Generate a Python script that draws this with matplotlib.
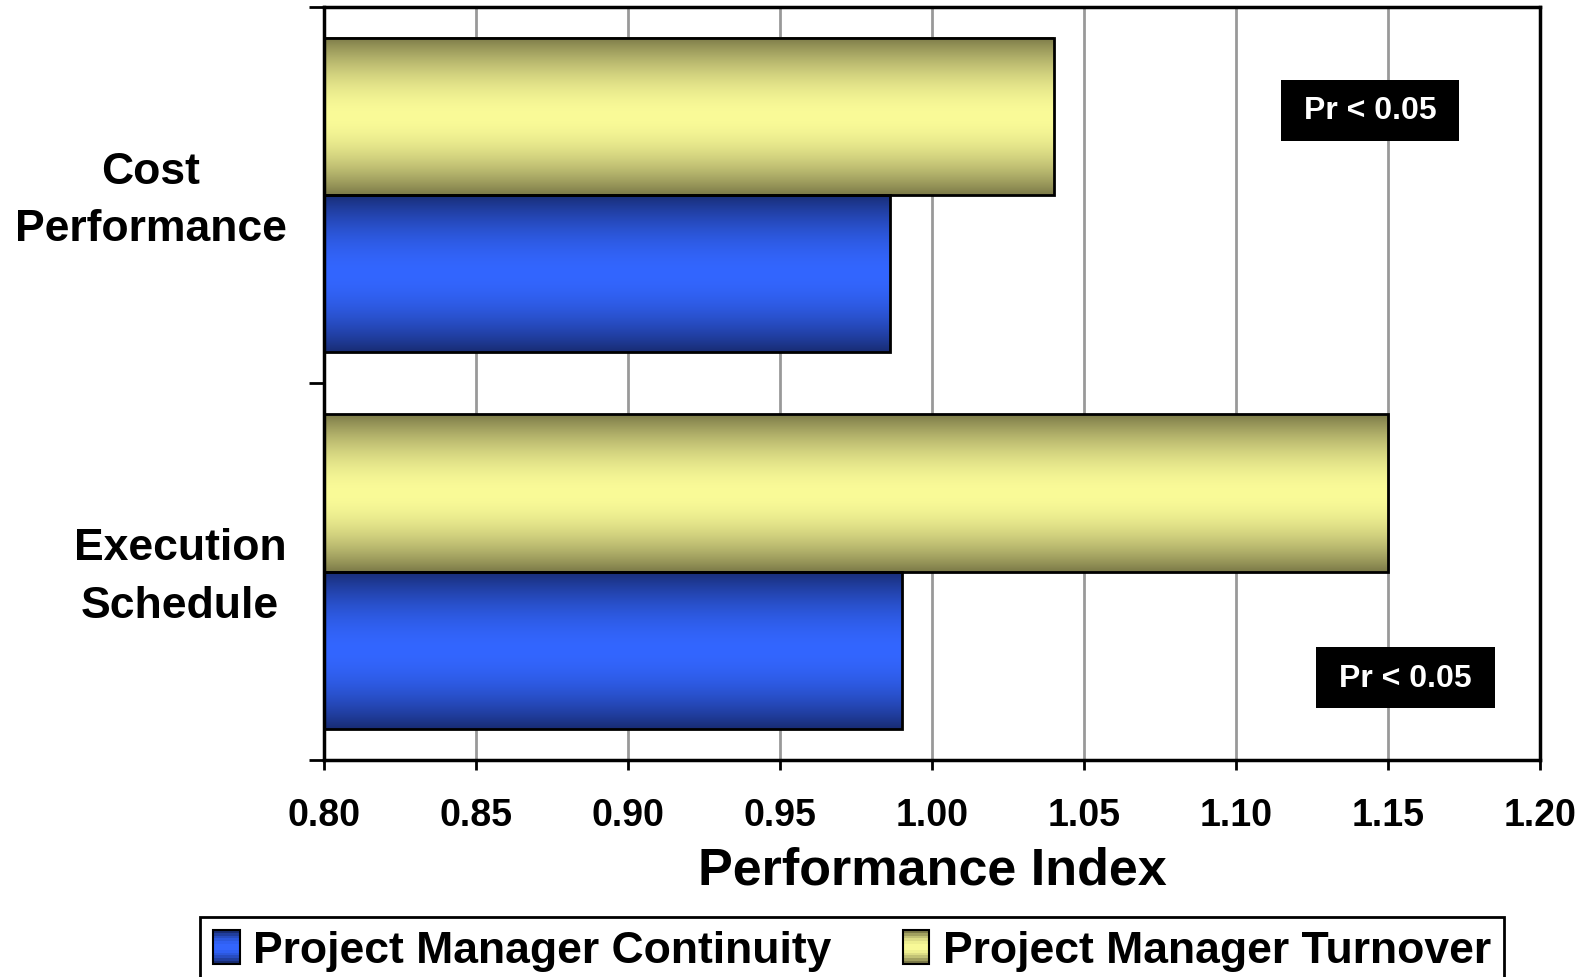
import numpy as np
import matplotlib
matplotlib.use("Agg")
import matplotlib.pyplot as plt
import matplotlib.transforms as mtransforms
from matplotlib.patches import Rectangle
from matplotlib.legend_handler import HandlerBase

plt.rcParams['font.family'] = ['Liberation Sans', 'DejaVu Sans']
plt.rcParams['font.weight'] = 'bold'

# Данные
categories = ['Execution\nSchedule', 'Cost\nPerformance']
continuity = [0.99, 0.986]
turnover = [1.15, 1.04]
series_names = ['Project Manager Continuity', 'Project Manager Turnover']
xticks = [0.80, 0.85, 0.90, 0.95, 1.00, 1.05, 1.10, 1.15, 1.20]
note = 'Pr < 0.05'

blue_dark, blue_light = np.array([24, 44, 116]) / 255, np.array([51, 102, 255]) / 255
yel_dark, yel_light = np.array([124, 122, 72]) / 255, np.array([250, 251, 152]) / 255


def gradient(dark, light, n=200):
    t = np.abs(np.linspace(-1, 1, n))
    w = (1 - t ** 1.8)[:, None]
    return dark[None, :] * (1 - w) + light[None, :] * w


fig = plt.figure(figsize=(15.88, 9.78), dpi=100)
ax = fig.add_axes([0.204, 0.222, 0.766, 0.770])

y = np.arange(len(categories))
h = 0.418
bars_b = ax.barh(y - h / 2, continuity, height=h, left=0, facecolor='none',
                 edgecolor='black', linewidth=2, zorder=3)
bars_y = ax.barh(y + h / 2, turnover, height=h, left=0, facecolor='none',
                 edgecolor='black', linewidth=2, zorder=3)

ax.set_xlim(0.80, 1.20)
ax.set_ylim(-0.5, 1.5)

# градиентная заливка столбцов
for bars, dark, light in [(bars_b, blue_dark, blue_light), (bars_y, yel_dark, yel_light)]:
    img = gradient(dark, light)
    for b in bars:
        x0, y0, w, hh = b.get_x(), b.get_y(), b.get_width(), b.get_height()
        ax.imshow(img[:, None, :], extent=[0.80, x0 + w, y0, y0 + hh],
                  aspect='auto', interpolation='bilinear', zorder=2)

ax.set_xticks(xticks)
ax.set_xticklabels([f'{v:.2f}' for v in xticks], fontsize=27, fontweight='bold')
ax.tick_params(axis='x', length=7, width=2, pad=20)
ax.set_yticks(y)
ax.set_yticklabels(categories, fontsize=32, fontweight='bold',
                   multialignment='center', linespacing=1.52)
ax.tick_params(axis='y', length=0, pad=27)
shift = mtransforms.ScaledTranslation(0, 8 / 100, fig.dpi_scale_trans)
for lbl in ax.get_yticklabels():
    lbl.set_transform(lbl.get_transform() + shift)
ax.set_yticks([-0.5, 0.5, 1.5], minor=True)
ax.tick_params(axis='y', which='minor', length=11, width=2)
ax.grid(axis='x', color='#999999', linewidth=2, zorder=1)
ax.set_axisbelow(True)
for s in ax.spines.values():
    s.set_linewidth(2.5)

ax.set_xlabel('Performance Index', fontsize=37.5, fontweight='bold', labelpad=9)

# пометки значимости
box_w, box_h = 0.0587, 0.1615
for xv, yv in [(1.144, 1.225), (1.1557, -0.282)]:
    ax.add_patch(Rectangle((xv - box_w / 2, yv - box_h / 2), box_w, box_h,
                           facecolor='black', edgecolor='none', zorder=5))
    ax.text(xv, yv, note, color='white', fontsize=23, fontweight='bold',
            ha='center', va='center', zorder=6)


class GradientHandler(HandlerBase):
    def __init__(self, dark, light):
        super().__init__()
        self.dark, self.light = dark, light

    def create_artists(self, legend, orig_handle, xdescent, ydescent, width,
                       height, fontsize, trans):
        cols = gradient(self.dark, self.light, 12)
        arts = []
        n = len(cols)
        for i, c in enumerate(cols):
            arts.append(Rectangle((-xdescent, -ydescent + height * i / n), width,
                                  height / n + 0.3, facecolor=c, edgecolor='none',
                                  transform=trans))
        arts.append(Rectangle((-xdescent, -ydescent), width, height,
                              facecolor='none', edgecolor='black', linewidth=1.5,
                              transform=trans))
        return arts


hb, hy = Rectangle((0, 0), 1, 1), Rectangle((0, 0), 1, 1)
leg = fig.legend([hb, hy], series_names, loc='upper center',
                 bbox_to_anchor=(0.5365, 0.0617), ncol=2, frameon=True,
                 fancybox=False, edgecolor='black', framealpha=1, fontsize=32,
                 handler_map={hb: GradientHandler(blue_dark, blue_light),
                              hy: GradientHandler(yel_dark, yel_light)},
                 handlelength=0.6, handleheight=0.8, handletextpad=0.3,
                 columnspacing=1.6, borderpad=0.3, borderaxespad=0)
leg.get_frame().set_linewidth(2)
for t in leg.get_texts():
    t.set_fontweight('bold')

fig.savefig('out.png', dpi=100)
